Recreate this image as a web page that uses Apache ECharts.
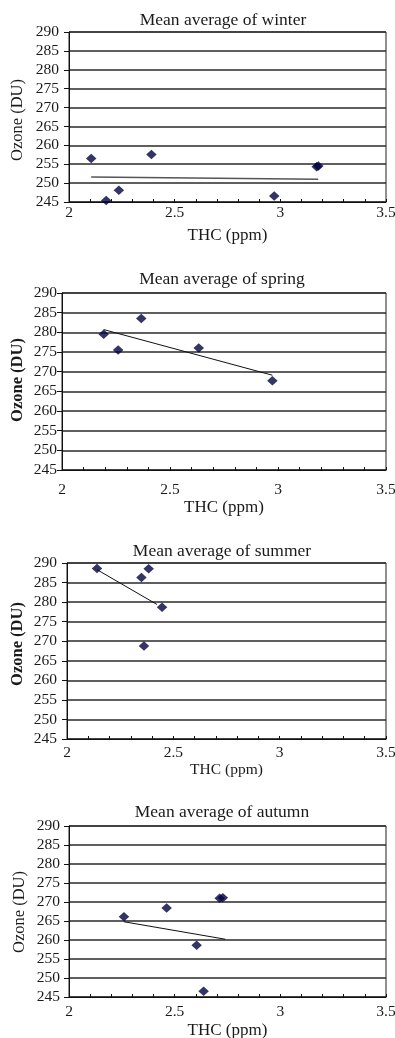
<!DOCTYPE html>
<html><head><meta charset="utf-8">
<script src="https://cdn.jsdelivr.net/npm/echarts@6/dist/echarts.min.js"></script>
<style>html,body{margin:0;padding:0;background:#fff}#c{width:395px;height:1038px}</style>
</head><body><div id="c"></div>
<script>
// ---- data ----
const chartTitles = ['Mean average of winter', 'Mean average of spring', 'Mean average of summer', 'Mean average of autumn'];
const xAxisTitle = 'THC (ppm)';
const yAxisTitle = 'Ozone (DU)';
const xTickValues = [2, 2.5, 3, 3.5];
const yTickValues = [245, 250, 255, 260, 265, 270, 275, 280, 285, 290];

const winterTHC   = [2.105, 2.176, 2.236, 2.390, 2.971, 3.172, 3.180];
const winterOzone = [256.5, 245.4, 248.1, 257.6, 246.6, 254.3, 254.5];
const winterTrendTHC   = [2.105, 3.179];
const winterTrendOzone = [251.6, 251.0];

const springTHC   = [2.193, 2.260, 2.367, 2.633, 2.974];
const springOzone = [279.5, 275.5, 283.5, 276.0, 267.7];
const springTrendTHC   = [2.193, 2.974];
const springTrendOzone = [280.7, 269.1];

const summerTHC   = [2.141, 2.350, 2.384, 2.447, 2.362];
const summerOzone = [288.6, 286.3, 288.5, 278.7, 268.8];
const summerTrendTHC   = [2.141, 2.423];
const summerTrendOzone = [288.3, 279.4];

const autumnTHC   = [2.260, 2.462, 2.604, 2.637, 2.713, 2.728];
const autumnOzone = [266.1, 268.4, 258.6, 246.5, 271.0, 271.1];
const autumnTrendTHC   = [2.260, 2.740];
const autumnTrendOzone = [264.8, 260.2];

// ---- layout ----
const panels = [
  {thc: winterTHC, oz: winterOzone, tthc: winterTrendTHC, toz: winterTrendOzone,
   left: 69, top: 32, right: 386, bottom: 202, titleX: 223, titleY: 21,
   xLabelMargin: 3, xNameGap: 25, yLabelMargin: 10, yNameX: 18, yNameY: 120, yBold: false, xNameSize: 17, trendColor: '#555', trendWidth: 1.5},
  {thc: springTHC, oz: springOzone, tthc: springTrendTHC, toz: springTrendOzone,
   left: 62, top: 293, right: 386, bottom: 470, titleX: 222, titleY: 280,
   xLabelMargin: 12, xNameGap: 29, yLabelMargin: 5, yNameX: 18, yNameY: 380, yBold: true, xNameSize: 17, trendColor: '#111', trendWidth: 1},
  {thc: summerTHC, oz: summerOzone, tthc: summerTrendTHC, toz: summerTrendOzone,
   left: 67, top: 563, right: 386, bottom: 739, titleX: 222, titleY: 552,
   xLabelMargin: 6, xNameGap: 23, yLabelMargin: 10, yNameX: 18, yNameY: 644, yBold: true, xNameSize: 15.5, trendColor: '#111', trendWidth: 1},
  {thc: autumnTHC, oz: autumnOzone, tthc: autumnTrendTHC, toz: autumnTrendOzone,
   left: 69, top: 826, right: 386, bottom: 997, titleX: 222, titleY: 813,
   xLabelMargin: 7, xNameGap: 25, yLabelMargin: 9, yNameX: 20, yNameY: 912, yBold: false, xNameSize: 17, trendColor: '#111', trendWidth: 1}
];

const FONT = 'Liberation Serif';
const TXT = '#1a1a1a';
const titleSize = 17.5;

const option = {
  backgroundColor: '#fff',
  animation: false,
  title: panels.map((p, i) => ({
    text: chartTitles[i], left: p.titleX, top: p.titleY - titleSize / 2 - 1, textAlign: 'center', padding: 0,
    textStyle: {fontFamily: FONT, fontSize: titleSize, fontWeight: 'normal', color: TXT}
  })),
  grid: panels.map(p => ({
    left: p.left, top: p.top, width: p.right - p.left, height: p.bottom - p.top,
    show: true, borderColor: '#222', borderWidth: 1, backgroundColor: 'transparent',
    containLabel: false, outerBoundsMode: 'none'
  })),
  xAxis: panels.map((p, i) => ({
    type: 'value', gridIndex: i,
    min: xTickValues[0], max: xTickValues[xTickValues.length - 1],
    interval: xTickValues[1] - xTickValues[0],
    axisLine: {show: true, onZero: false, lineStyle: {color: '#111', width: 1}},
    axisTick: {show: true, inside: true, length: 3, lineStyle: {color: '#111'}},
    minorTick: {show: true, splitNumber: 5, length: 3, lineStyle: {color: '#111'}},
    splitLine: {show: false},
    axisLabel: {margin: p.xLabelMargin, fontFamily: FONT, fontSize: 15.5, color: TXT},
    name: xAxisTitle, nameLocation: 'middle', nameGap: p.xNameGap,
    nameTextStyle: {fontFamily: FONT, fontSize: p.xNameSize, color: TXT}
  })),
  yAxis: panels.map((p, i) => ({
    type: 'value', gridIndex: i,
    min: yTickValues[0], max: yTickValues[yTickValues.length - 1],
    interval: yTickValues[1] - yTickValues[0],
    axisLine: {show: true, onZero: false, lineStyle: {color: '#111', width: 1}},
    axisTick: {show: true, inside: false, length: 5, lineStyle: {color: '#111'}},
    splitLine: {show: true, lineStyle: {color: '#2a2a2a', width: 1.5}},
    axisLabel: {margin: p.yLabelMargin, fontFamily: FONT, fontSize: 15.5, color: TXT}
  })),
  graphic: panels.map(p => ({
    type: 'text', x: p.yNameX, y: p.yNameY, rotation: Math.PI / 2,
    style: {text: yAxisTitle, align: 'center', verticalAlign: 'middle',
      font: (p.yBold ? 'bold ' : '') + '16.5px "' + FONT + '"', fill: TXT}
  })),
  series: panels.flatMap((p, i) => [
    {type: 'line', xAxisIndex: i, yAxisIndex: i, symbol: 'none', silent: true,
     data: p.tthc.map((x, k) => [x, p.toz[k]]),
     lineStyle: {color: p.trendColor, width: p.trendWidth}, z: 3},
    {type: 'scatter', xAxisIndex: i, yAxisIndex: i, symbol: 'diamond', symbolSize: [10.5, 9.5],
     data: p.thc.map((x, k) => [x, p.oz[k]]),
     itemStyle: {color: '#03033f'}, z: 4}
  ])
};

const chart = echarts.init(document.getElementById('c'), null, {renderer: 'canvas'});
chart.setOption(option);
</script>
</body></html>
